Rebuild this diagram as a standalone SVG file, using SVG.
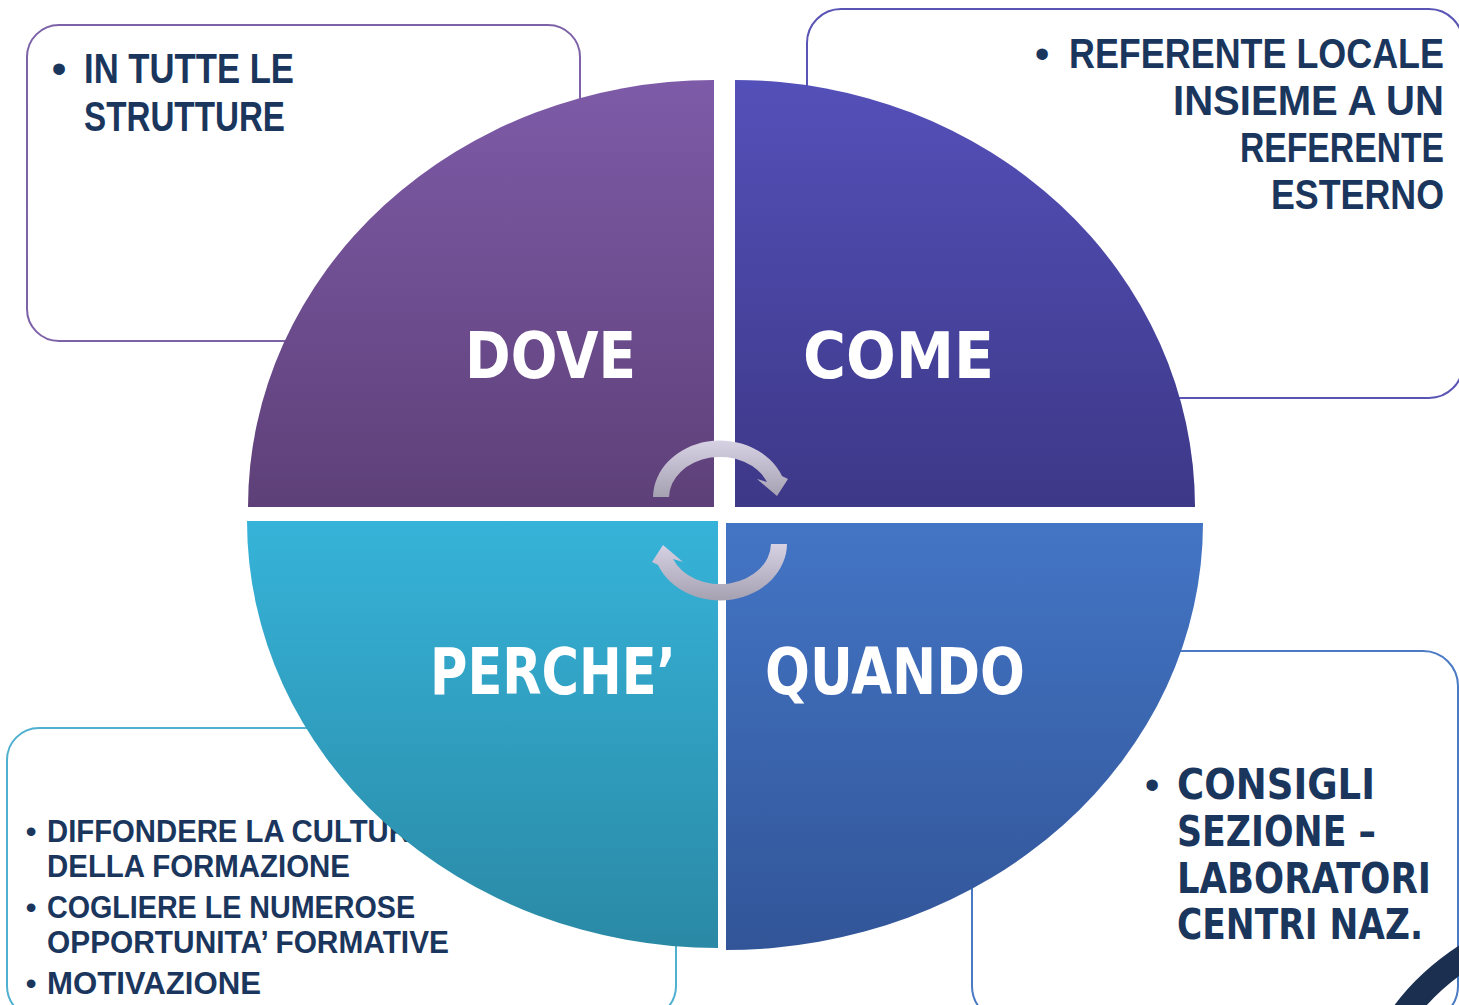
<svg xmlns="http://www.w3.org/2000/svg" width="1459" height="1005" viewBox="0 0 1459 1005">
<style>
.box{fill:#fff;stroke-width:2}
.bt{font-family:"Liberation Sans Narrow","Liberation Sans",Arial,sans-serif;font-weight:bold;fill:#1b365d}
.bw{font-family:"DejaVu Sans","Liberation Sans",sans-serif;font-weight:bold;fill:#1b365d}
.bul{font-family:"Liberation Sans",Arial,sans-serif;fill:#1b365d;text-anchor:middle}
.lab{font-family:"DejaVu Sans","Liberation Sans",sans-serif;font-weight:bold;fill:#fff;font-size:64px}
</style>
<defs>
<linearGradient id="gDove" x1="0" y1="0" x2="0" y2="1"><stop offset="0" stop-color="#7e5ba8"/><stop offset="1" stop-color="#5e4078"/></linearGradient>
<linearGradient id="gCome" x1="0" y1="0" x2="0" y2="1"><stop offset="0" stop-color="#5450b9"/><stop offset="1" stop-color="#3d3887"/></linearGradient>
<linearGradient id="gPerche" x1="0" y1="0" x2="0" y2="1"><stop offset="0" stop-color="#36b3d9"/><stop offset="1" stop-color="#2a89a5"/></linearGradient>
<linearGradient id="gQuando" x1="0" y1="0" x2="0" y2="1"><stop offset="0" stop-color="#4375c5"/><stop offset="1" stop-color="#325598"/></linearGradient>
<linearGradient id="gArr" x1="0" y1="0" x2="0" y2="1"><stop offset="0" stop-color="#d6d2e4"/><stop offset="1" stop-color="#a5a1b1"/></linearGradient>
</defs>
<rect width="1459" height="1005" fill="#fff"/>

<g id="box-dove">
<rect class="box" x="27" y="25" width="553" height="316" rx="32" stroke="#7d62a8"/>
<text class="bul" x="59" y="83" font-size="43">•</text>
<text class="bt" x="84" y="83" font-size="43" textLength="210" lengthAdjust="spacingAndGlyphs">IN TUTTE LE</text>
<text class="bt" x="84" y="131" font-size="43" textLength="201" lengthAdjust="spacingAndGlyphs">STRUTTURE</text>
</g>

<g id="box-come">
<rect class="box" x="807" y="9" width="656" height="389" rx="34" stroke="#5a55b5"/>
<text class="bul" x="1042" y="68" font-size="42">•</text>
<text class="bt" x="1069" y="68" font-size="42" textLength="375" lengthAdjust="spacingAndGlyphs">REFERENTE LOCALE</text>
<text class="bt" x="1173" y="115" font-size="42" textLength="271" lengthAdjust="spacingAndGlyphs">INSIEME A UN</text>
<text class="bt" x="1240" y="162" font-size="42" textLength="204" lengthAdjust="spacingAndGlyphs">REFERENTE</text>
<text class="bt" x="1271" y="209" font-size="42" textLength="173" lengthAdjust="spacingAndGlyphs">ESTERNO</text>
</g>

<g id="box-quando">
<rect class="box" x="972" y="651" width="486" height="370" rx="35" stroke="#4a7ac4"/>
<text class="bul" x="1152" y="799" font-size="42">•</text>
<text class="bw" x="1177" y="799" font-size="42" textLength="198" lengthAdjust="spacingAndGlyphs">CONSIGLI</text>
<text class="bw" x="1177" y="846" font-size="42" textLength="199" lengthAdjust="spacingAndGlyphs">SEZIONE –</text>
<text class="bw" x="1177" y="893" font-size="42" textLength="254" lengthAdjust="spacingAndGlyphs">LABORATORI</text>
<text class="bw" x="1177" y="939" font-size="42" textLength="246" lengthAdjust="spacingAndGlyphs">CENTRI NAZ.</text>
</g>

<g id="box-perche">
<rect class="box" x="7" y="728" width="669" height="290" rx="32" stroke="#4fb0cf"/>
<text class="bul" x="31" y="842" font-size="32">•</text>
<text class="bt" x="47" y="842" font-size="32" textLength="384" lengthAdjust="spacingAndGlyphs">DIFFONDERE LA CULTURA</text>
<text class="bt" x="47" y="877" font-size="32" textLength="303" lengthAdjust="spacingAndGlyphs">DELLA FORMAZIONE</text>
<text class="bul" x="31" y="918" font-size="32">•</text>
<text class="bt" x="47" y="918" font-size="32" textLength="368" lengthAdjust="spacingAndGlyphs">COGLIERE LE NUMEROSE</text>
<text class="bt" x="47" y="953" font-size="32" textLength="402" lengthAdjust="spacingAndGlyphs">OPPORTUNITA’ FORMATIVE</text>
<text class="bul" x="31" y="994" font-size="32">•</text>
<text class="bt" x="47" y="994" font-size="32" textLength="214" lengthAdjust="spacingAndGlyphs">MOTIVAZIONE</text>
</g>

<g id="dove">
<path d="M714,507 L248,507 A466,427 0 0 1 714,80 Z" fill="url(#gDove)"/>
<text class="lab" x="465" y="378" textLength="171" lengthAdjust="spacingAndGlyphs">DOVE</text>
</g>
<g id="come">
<path d="M735,507 L735,80 A460,427 0 0 1 1195,507 Z" fill="url(#gCome)"/>
<text class="lab" x="803" y="378" textLength="191" lengthAdjust="spacingAndGlyphs">COME</text>
</g>
<g id="perche">
<path d="M718,521 L247,521 A471,427 0 0 0 718,948 Z" fill="url(#gPerche)"/>
<text class="lab" x="430" y="694" textLength="246" lengthAdjust="spacingAndGlyphs">PERCHE’</text>
</g>
<g id="quando">
<path d="M726,523 L726,950 A477,427 0 0 0 1203,523 Z" fill="url(#gQuando)"/>
<text class="lab" x="765" y="694" textLength="260" lengthAdjust="spacingAndGlyphs">QUANDO</text>
</g>

<g id="connectors">
<path d="M653,497 A67,57 0 0 1 782,476 L788,479 L777,496 L757,479 L767,482 A51,41 0 0 0 669,497 Z" fill="url(#gArr)"/>
<path d="M787,544 A67,57 0 0 1 658,565 L652,562 L663,545 L683,562 L673,559 A51,41 0 0 0 771,544 Z" fill="url(#gArr)"/>
</g>

<path d="M1398,1022 Q1424,982 1472,952" fill="none" stroke="#1b2f50" stroke-width="25"/>
</svg>
